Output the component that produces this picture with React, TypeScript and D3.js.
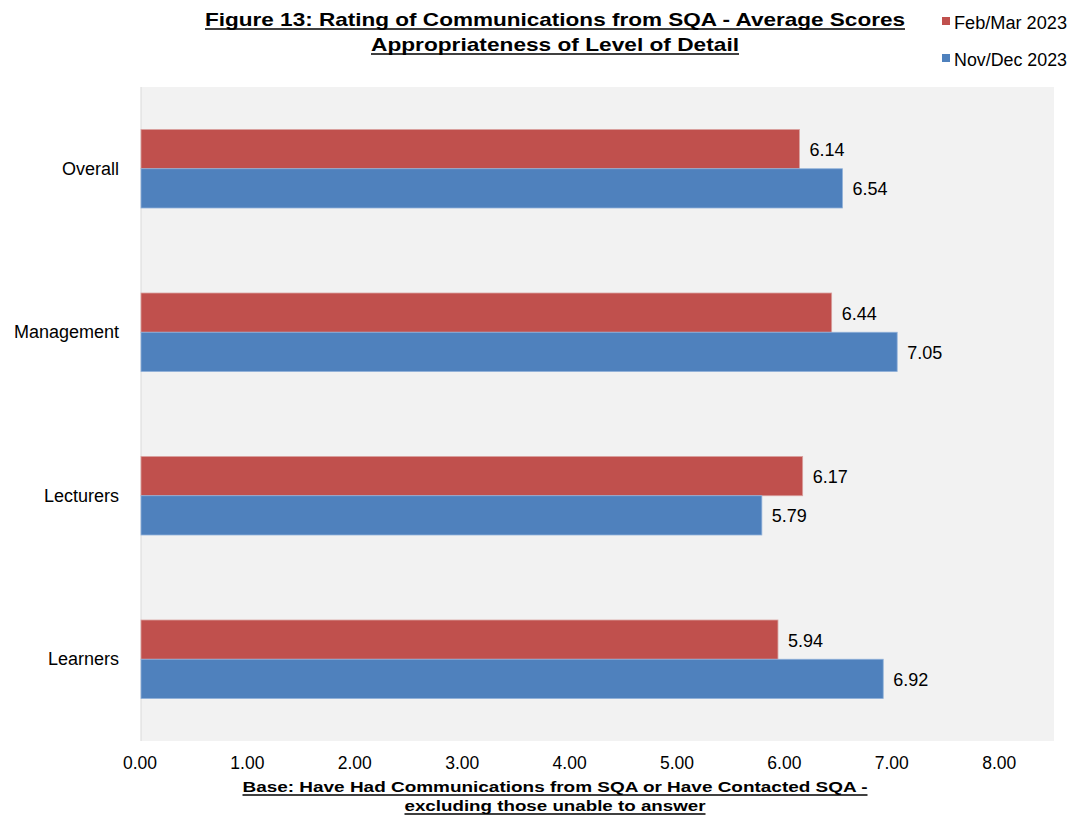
import React from "react";
import * as d3 from "d3";

const categories = ["Overall", "Management", "Lecturers", "Learners"];
const seriesNames = ["Feb/Mar 2023", "Nov/Dec 2023"];
const febMar = [6.14, 6.44, 6.17, 5.94];
const novDec = [6.54, 7.05, 5.79, 6.92];
const xTicks = [0, 1, 2, 3, 4, 5, 6, 7, 8];
const colors = ["#C0504D", "#4F81BD"];

const W = 1075;
const H = 817;
const plot = { left: 141, right: 1054, top: 87, bottom: 741 };
const font = "Liberation Sans, Arial, sans-serif";

export default function App() {
  const x = d3.scaleLinear().domain([0, 8]).range([140, 140 + 8 * 107.4]);
  const y = d3.scaleBand().domain(categories).range([plot.top, plot.bottom]).paddingInner(0.52).paddingOuter(0.26);
  const sub = d3.scaleBand().domain(seriesNames).range([0, y.bandwidth()]);
  const series = [febMar, novDec];

  const Underlined = ({ cx, yy, text, len, size }: any) => (
    <g>
      <text x={cx} y={yy} textAnchor="middle" fontFamily={font} fontWeight="bold" fontSize={size} textLength={len} lengthAdjust="spacingAndGlyphs" fill="#000">{text}</text>
      <line x1={cx - len / 2} x2={cx + len / 2} y1={yy + 3} y2={yy + 3} stroke="#000" strokeWidth={1.5} />
    </g>
  );

  return (
    <div style={{ position: "absolute", left: 0, top: 0 }}>
      <svg width={W} height={H} style={{ display: "block", background: "#fff" }}>
        <rect x={plot.left} y={plot.top} width={plot.right - plot.left} height={plot.bottom - plot.top} fill="#F2F2F2" />
        <line x1={plot.left} x2={plot.left} y1={plot.top} y2={plot.bottom} stroke="#D9D9D9" strokeWidth={1} />
        {categories.map((c, i) => (
          <g key={c}>
            {series.map((s, j) => {
              const by = (y(c) as number) + (sub(seriesNames[j]) as number);
              const bh = sub.bandwidth();
              return (
                <g key={j}>
                  <rect x={x(0) + 1} y={by} width={x(s[i]) - x(0) - 1} height={bh} fill={colors[j]} stroke={j === 0 ? "#D9A09E" : "#8FB0D9"} strokeWidth={0.8} />
                  <text x={x(s[i]) + 10} y={by + bh / 2 + 7} fontFamily={font} fontSize={18} fill="#000">{s[i].toFixed(2)}</text>
                </g>
              );
            })}
            <text x={119} y={(y(c) as number) + y.bandwidth() / 2 + 6} textAnchor="end" fontFamily={font} fontSize={18} fill="#000">{c}</text>
          </g>
        ))}
        {xTicks.map((t) => (
          <text key={t} x={x(t)} y={769} textAnchor="middle" fontFamily={font} fontSize={17.5} fill="#000">{t.toFixed(2)}</text>
        ))}
        <Underlined cx={555} yy={26} text="Figure 13: Rating of Communications from SQA - Average Scores" len={700} size={19} />
        <Underlined cx={555} yy={51} text="Appropriateness of Level of Detail" len={368} size={19} />
        <Underlined cx={555} yy={792} text="Base:  Have Had Communications  from SQA or Have Contacted SQA -" len={625} size={15} />
        <Underlined cx={555} yy={811} text="excluding those unable to answer" len={301} size={15} />
        {seriesNames.map((n, j) => (
          <g key={n}>
            <rect x={942} y={j === 0 ? 17 : 54} width={8} height={8} fill={colors[j]} />
            <text x={954} y={j === 0 ? 29 : 66} fontFamily={font} fontSize={18} textLength={113} lengthAdjust="spacingAndGlyphs" fill="#000">{n}</text>
          </g>
        ))}
      </svg>
    </div>
  );
}
